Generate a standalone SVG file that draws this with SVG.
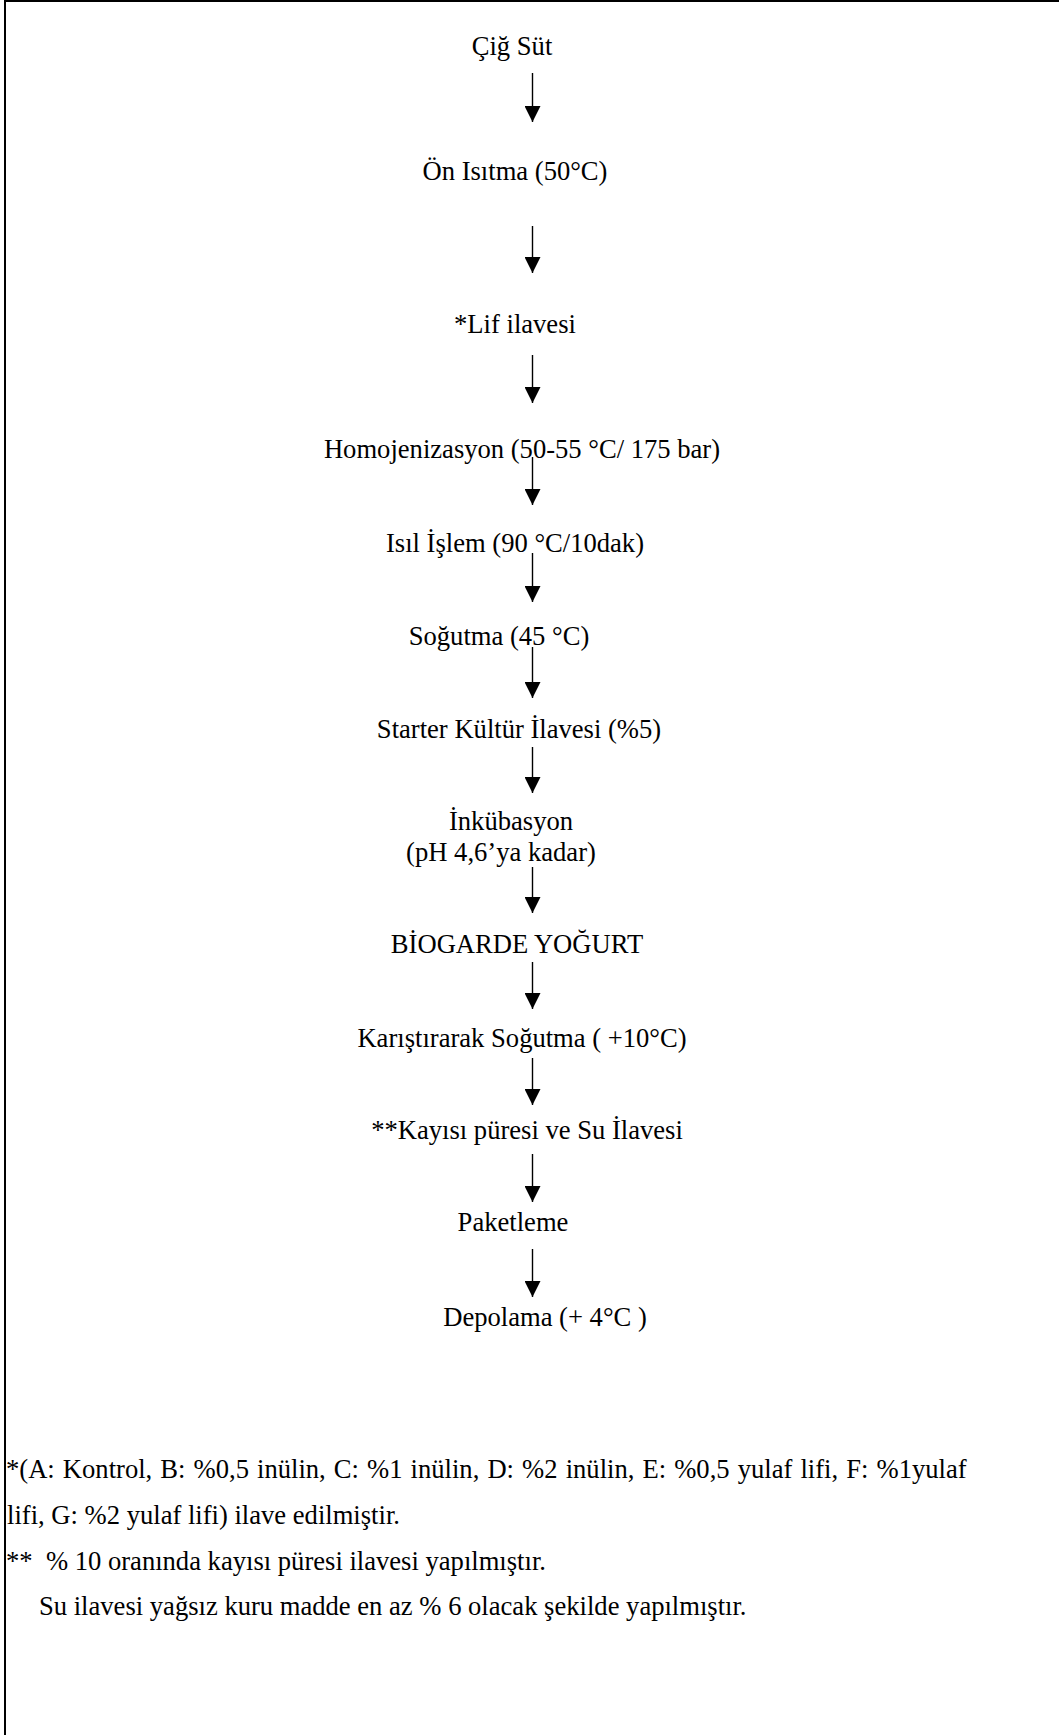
<svg xmlns="http://www.w3.org/2000/svg" width="1059" height="1735" viewBox="0 0 1059 1735">
<style>
.t{font-family:"Liberation Serif","Times New Roman",serif;font-size:26.6px;fill:#000;text-anchor:middle}
.f{font-family:"Liberation Serif","Times New Roman",serif;font-size:26.6px;fill:#000}
.c{stroke:#000;stroke-width:1.4;fill:none;marker-end:url(#ah)}
</style>
<defs>
<marker id="ah" markerUnits="userSpaceOnUse" markerWidth="16" markerHeight="16" refX="15" refY="7.5" orient="auto" viewBox="0 0 15 15">
<path d="M0,0 L15,7.5 L0,15 Z" fill="#000"/>
</marker>
</defs>
<rect width="1059" height="1735" fill="#fff"/>
<g id="frame">
<line x1="5" y1="0" x2="5" y2="1735" stroke="#000" stroke-width="2"/>
<line x1="4" y1="1" x2="1059" y2="1" stroke="#000" stroke-width="2"/>
</g>
<g id="n1"><text class="t" x="512" y="55">Çiğ Süt</text></g>
<g id="n2"><text class="t" x="515" y="180">Ön Isıtma (50°C)</text></g>
<g id="n3"><text class="t" x="515" y="333">*Lif ilavesi</text></g>
<g id="n4"><text class="t" x="522" y="458">Homojenizasyon (50-55 °C/ 175 bar)</text></g>
<g id="n5"><text class="t" x="515" y="552">Isıl İşlem (90 °C/10dak)</text></g>
<g id="n6"><text class="t" x="499" y="645">Soğutma (45 °C)</text></g>
<g id="n7"><text class="t" x="519" y="738">Starter Kültür İlavesi (%5)</text></g>
<g id="n8"><text class="t" x="511" y="830">İnkübasyon</text><text class="t" x="501" y="861">(pH 4,6’ya kadar)</text></g>
<g id="n9"><text class="t" x="517" y="953">BİOGARDE YOĞURT</text></g>
<g id="n10"><text class="t" x="522" y="1047">Karıştırarak Soğutma ( +10°C)</text></g>
<g id="n11"><text class="t" x="527" y="1139">**Kayısı püresi ve Su İlavesi</text></g>
<g id="n12"><text class="t" x="513" y="1231">Paketleme</text></g>
<g id="n13"><text class="t" x="545" y="1326">Depolama (+ 4°C )</text></g>
<g id="connectors">
<line class="c" x1="532.5" y1="73" x2="532.5" y2="122"/>
<line class="c" x1="532.5" y1="226" x2="532.5" y2="273"/>
<line class="c" x1="532.5" y1="355" x2="532.5" y2="403"/>
<line class="c" x1="532.5" y1="457" x2="532.5" y2="505"/>
<line class="c" x1="532.5" y1="553" x2="532.5" y2="602"/>
<line class="c" x1="532.5" y1="647" x2="532.5" y2="698"/>
<line class="c" x1="532.5" y1="747" x2="532.5" y2="793"/>
<line class="c" x1="532.5" y1="867" x2="532.5" y2="913"/>
<line class="c" x1="532.5" y1="962" x2="532.5" y2="1009"/>
<line class="c" x1="532.5" y1="1058" x2="532.5" y2="1105"/>
<line class="c" x1="532.5" y1="1154" x2="532.5" y2="1202"/>
<line class="c" x1="532.5" y1="1249" x2="532.5" y2="1297"/>
</g>
<g id="notes">
<text class="f" x="6" y="1478" word-spacing="1.45">*(A: Kontrol, B: %0,5 inülin, C: %1 inülin, D: %2 inülin, E: %0,5 yulaf lifi, F: %1yulaf</text>
<text class="f" x="7" y="1524">lifi, G: %2 yulaf lifi) ilave edilmiştir.</text>
<text class="f" x="6" y="1570" xml:space="preserve">**  % 10 oranında kayısı püresi ilavesi yapılmıştır.</text>
<text class="f" x="39" y="1615">Su ilavesi yağsız kuru madde en az % 6 olacak şekilde yapılmıştır.</text>
</g>
</svg>
